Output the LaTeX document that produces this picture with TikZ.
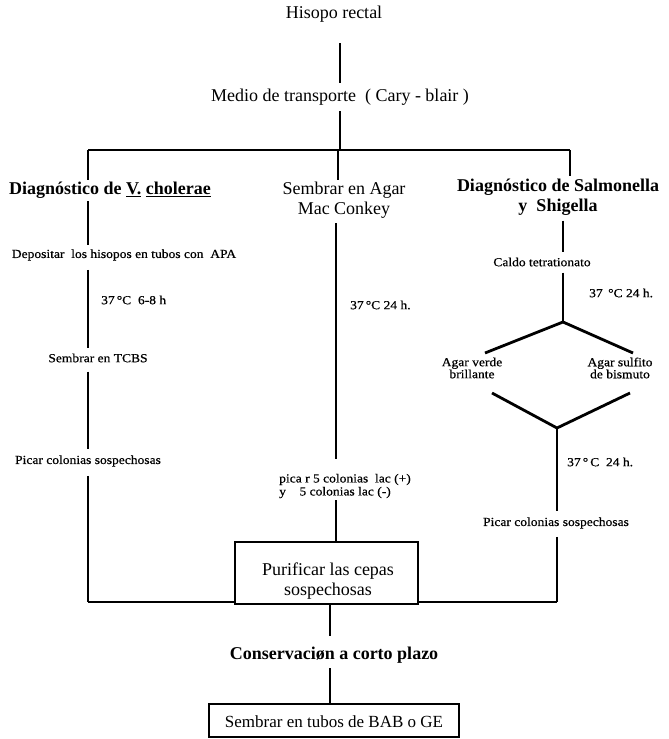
\documentclass[tikz,border=0pt]{standalone}
\usepackage{fontspec}
\setmainfont{Liberation Serif}
\newfontfamily\labelfont{Liberation Serif}[FakeStretch=1.1,FakeBold=0.6]
\begin{document}
\begin{tikzpicture}[x=1pt,y=-1pt,
  conn/.style={line width=2.8pt, line cap=butt},
  big/.style={font=\fontsize{18}{19.5}\selectfont, inner sep=0pt, align=center},
  bigb/.style={font=\fontsize{18}{20.5}\selectfont\bfseries, inner sep=0pt, align=center},
  lbl/.style={font=\labelfont\fontsize{12.3}{14}\selectfont, inner sep=0pt, align=center},
  boxed/.style={draw, line width=2pt, inner sep=0pt}]
\fill[white] (0,0) rectangle (669,739);
\useasboundingbox (0,0) rectangle (669,739);

% junction points of the frame
\coordinate (jM) at (340,150);
\coordinate (jL) at (88,150);
\coordinate (jR) at (570,150);
\coordinate (bL) at (88,602);
\coordinate (bR) at (557,602);
\coordinate (xM) at (336,0);
\coordinate (xB) at (330,0);
\coordinate (xR) at (563,0);
% branching of the Salmonella column
\coordinate (dTop) at (563,322);
\coordinate (dL) at (485,353);
\coordinate (dR) at (633,353);
\coordinate (dL2) at (492,393);
\coordinate (dR2) at (630,393);
\coordinate (dBot) at (557,428);

% top of the chart
\node[big] (hisopo) at (334,14) {Hisopo rectal};
\node[big] (medio) at (340,97) {Medio de transporte~~( Cary - blair )};
\draw[conn] ([yshift=-21pt]hisopo.south -| jM) -- ([yshift=6pt]medio.north -| jM);
\draw[conn] ([yshift=-6pt]medio.south -| jM) -- (jM);
\draw[conn] (jL) -- (jR);

% left column: V. cholerae
\node[bigb] (titL) at (110,190) {Diagnóstico de \underline{V.} \underline{cholerae}};
\node[lbl] (depos) at (124,255) {Depositar~ los hisopos en tubos con~ APA};
\node[lbl, anchor=west] (tempL) at (101,300) {37\,°C~ 6-8 h};
\node[lbl] (tcbs) at (98,358) {Sembrar en TCBS};
\node[lbl] (picL) at (88,461) {Picar colonias sospechosas};
\draw[conn] (jL) -- ([yshift=2pt]titL.north -| jL);
\draw[conn] ([yshift=-3pt]titL.south -| jL) -- ([yshift=4pt]depos.north -| jL);
\draw[conn] ([yshift=-9pt]depos.south -| jL) -- ([yshift=5pt]tcbs.north -| jL);
\draw[conn] ([yshift=-9pt]tcbs.south -| jL) -- ([yshift=6pt]picL.north -| jL);
\draw[conn] ([yshift=-9pt]picL.south -| jL) -- (bL);

% middle column: Mac Conkey
\node[big] (titM) at (344,200) {Sembrar en Agar\\Mac Conkey};
\node[lbl, anchor=west] (tempM) at (350,305) {37\,°C 24 h.};
\node[lbl, align=left] (picM) at (345,486) {pica r 5 colonias~ lac (+)\\[-1pt]y~~~ 5 colonias lac (-)};
\node[boxed, minimum width=183pt, minimum height=62pt] (purif) at (326.5,573) {};
\node[big] (purifT) at (328,581) {Purificar las cepas\\sospechosas};
\coordinate (jM2) at (338,150);
\draw[conn] (jM2) -- ([yshift=2pt]titM.north -| jM2);
\draw[conn] ([yshift=-5pt]titM.south -| xM) -- ([yshift=15pt]picM.north -| xM);
\draw[conn] ([yshift=-2pt]picM.south -| xM) -- (purif.north -| xM);

% right column: Salmonella y Shigella
\node[bigb] (titR) at (558,197) {Diagnóstico de Salmonella\\y~ Shigella};
\node[lbl] (caldo) at (542,262) {Caldo tetrationato};
\node[lbl, anchor=west] (tempR) at (589,293) {37 \,°C 24 h.};
\node[lbl] (verde) at (472,368) {Agar verde\\[-2pt]brillante};
\node[lbl] (sulf) at (620,368) {Agar sulfito\\[-2pt]de bismuto};
\node[lbl, anchor=west] (tempR2) at (567,462) {37\,°\,C~ 24 h.};
\node[lbl] (picR) at (556,523) {Picar colonias sospechosas};
\draw[conn] (jR) -- ([yshift=2pt]titR.north -| jR);
\draw[conn] ([yshift=-5pt]titR.south -| xR) -- ([yshift=5pt]caldo.north -| xR);
\draw[conn] ([yshift=-6pt]caldo.south -| xR) -- (dTop);
\draw[conn, line join=miter] (dL) -- (dTop) -- (dR);
\draw[conn, line join=miter] (dL2) -- (dBot) -- (dR2);
\draw[conn] (dBot) -- ([yshift=6pt]picR.north -| dBot);
\draw[conn] ([yshift=-8pt]picR.south -| dBot) -- (bR);

% bottom of the frame and storage steps
\draw[conn] (bL) -- (bL -| purif.west);
\draw[conn] (bR -| purif.east) -- (bR);
\node[bigb] (conserv) at (334,655) {Conservaciøn a corto plazo};
\node[boxed, minimum width=250pt, minimum height=33pt] (bab) at (334,720.5) {};
\node[big, font=\fontsize{17}{19}\selectfont] (babT) at (334,722) {Sembrar en tubos de BAB o GE};
\draw[conn] (purif.south -| xB) -- ([yshift=11pt]conserv.north -| xB);
\draw[conn] ([yshift=-5pt]conserv.south -| xB) -- (bab.north -| xB);
\end{tikzpicture}
\end{document}
